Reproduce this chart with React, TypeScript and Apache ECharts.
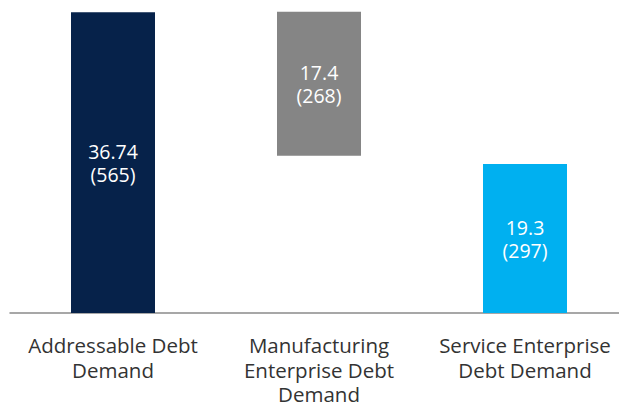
import React, { useEffect, useRef } from "react";
import * as echarts from "echarts";

const categories = [
  "Addressable Debt\nDemand",
  "Manufacturing\nEnterprise Debt\nDemand",
  "Service Enterprise\nDebt Demand",
];
const baseValues = [0, 19.2, 0];
const barValues = [36.74, 17.6, 18.2];
const barLabels = ["36.74\n(565)", "17.4\n(268)", "19.3\n(297)"];
const barColors = ["#06224a", "#858585", "#00b0f0"];

export default function App() {
  const ref = useRef<HTMLDivElement>(null);
  useEffect(() => {
    if (!ref.current) return;
    const chart = echarts.init(ref.current, undefined, { renderer: "svg" });
    chart.setOption({
      animation: false,
      grid: {
        left: 10,
        top: 2,
        width: 618,
        bottom: 94,
        containLabel: false,
        outerBoundsMode: "none",
      },
      xAxis: {
        type: "category",
        data: categories,
        axisLine: { lineStyle: { color: "#8a8a8a", width: 1.5 } },
        axisTick: { length: 8, lineStyle: { color: "#8a8a8a", width: 1.5 } },
        axisLabel: {
          color: "#333333",
          fontFamily: "Open Sans",
          fontSize: 20.5,
          lineHeight: 24.5,
          margin: 20,
          interval: 0,
        },
      },
      yAxis: {
        type: "value",
        min: 0,
        max: 38,
        show: false,
        splitLine: { show: false },
      },
      series: [
        {
          type: "bar",
          stack: "w",
          data: baseValues,
          itemStyle: { color: "transparent" },
          barWidth: 84,
          silent: true,
        },
        {
          type: "bar",
          stack: "w",
          barWidth: 84,
          data: barValues.map((v, i) => ({
            value: v,
            itemStyle: { color: barColors[i] },
          })),
          label: {
            show: true,
            position: "inside",
            color: "#ffffff",
            fontFamily: "Open Sans",
            fontSize: 19.5,
            lineHeight: 23,
            formatter: (p: any) => barLabels[p.dataIndex],
          },
        },
      ],
    });
    return () => chart.dispose();
  }, []);
  return (
    <div
      ref={ref}
      style={{ width: 619, height: 407, position: "absolute", left: 0, top: 0 }}
    />
  );
}
